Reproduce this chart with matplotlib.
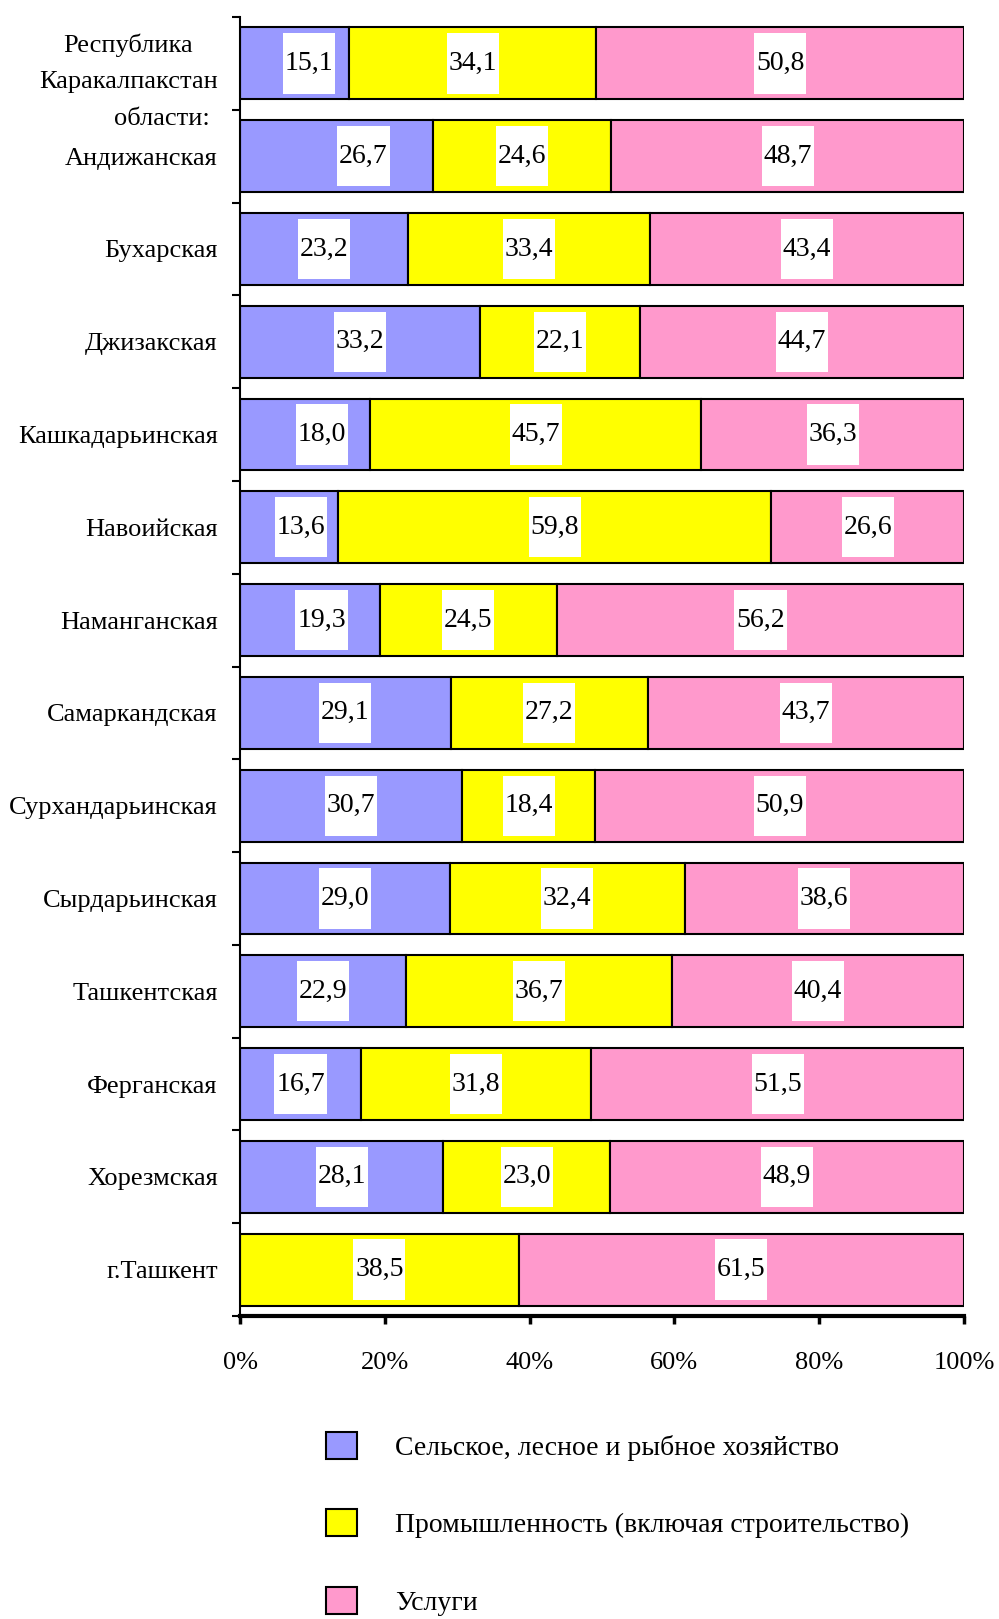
import matplotlib
matplotlib.use('Agg')
import matplotlib.pyplot as plt
from matplotlib.patches import Rectangle, Patch
from matplotlib.transforms import blended_transform_factory
import numpy as np

plt.rcParams['font.family'] = ['Liberation Serif', 'DejaVu Serif']

regions = ["Республика\nКаракалпакстан", "Андижанская", "Бухарская", "Джизакская",
           "Кашкадарьинская", "Навоийская", "Наманганская", "Самаркандская",
           "Сурхандарьинская", "Сырдарьинская", "Ташкентская", "Ферганская",
           "Хорезмская", "г.Ташкент"]
agriculture = [15.1, 26.7, 23.2, 33.2, 18.0, 13.6, 19.3, 29.1, 30.7, 29.0, 22.9, 16.7, 28.1, 0.0]
industry = [34.1, 24.6, 33.4, 22.1, 45.7, 59.8, 24.5, 27.2, 18.4, 32.4, 36.7, 31.8, 23.0, 38.5]
services = [50.8, 48.7, 43.4, 44.7, 36.3, 26.6, 56.2, 43.7, 50.9, 38.6, 40.4, 51.5, 48.9, 61.5]
series_names = ["Сельское, лесное и рыбное хозяйство",
                "Промышленность (включая строительство)",
                "Услуги"]
group_note = "области:"
x_ticks = [0, 20, 40, 60, 80, 100]
x_tick_labels = ["0%", "20%", "40%", "60%", "80%", "100%"]

# style
colors = ["#9999FF", "#FFFF00", "#FF99CC"]
agri_label_nudge = [2.0, 3.7, 0, 0, 2.3, 1.6, 1.6, 0, 0, 0, 0, 0, 0, 0]
FS = 19
VFS = 20
LFS = 20

fig = plt.figure(figsize=(9.99, 16.19), dpi=100)
ax = fig.add_axes([240/999, 1 - 1316/1619, (964-240)/999, (1316-17)/1619])

n = len(regions)
y = np.arange(n)
bar_h = 0.775
series = [agriculture, industry, services]
left = np.zeros(n)
for k, vals in enumerate(series):
    vals = np.array(vals)
    ax.barh(y, vals, left=left, height=bar_h, color=colors[k], edgecolor='black',
            linewidth=1.5, zorder=2)
    for i in range(n):
        if vals[i] <= 0:
            continue
        cx = left[i] + vals[i] / 2
        if k == 0:
            cx += agri_label_nudge[i]
        bw, bh = 7.2, 0.65
        ax.add_patch(Rectangle((cx - bw/2, y[i] - bh/2), bw, bh, facecolor='white',
                               edgecolor='none', zorder=3))
        ax.text(cx, y[i], f"{vals[i]:.1f}".replace('.', ','), ha='center', va='center',
                fontsize=VFS, zorder=4)
    left = left + vals

ax.set_xlim(0, 100)
ax.set_ylim(n - 0.5, -0.5)

ax.set_yticks(y)
ax.set_yticklabels(regions, fontsize=FS)
for t in ax.get_yticklabels():
    if '\n' in t.get_text():
        t.set_multialignment('center')
        t.set_linespacing(1.8)
        t.set_verticalalignment('center')
ax.set_yticks(np.arange(n + 1) - 0.5, minor=True)
ax.tick_params(axis='y', which='major', length=0, pad=16)
ax.tick_params(axis='y', which='minor', length=6, width=1.5, direction='out')

ax.set_xticks(x_ticks)
ax.set_xticklabels(x_tick_labels, fontsize=FS)
ax.tick_params(axis='x', which='major', length=6, width=2.5, direction='out', pad=20)

for s in ['top', 'right']:
    ax.spines[s].set_visible(False)
ax.spines['left'].set_linewidth(1.5)
ax.spines['bottom'].set_linewidth(3)

trans = blended_transform_factory(ax.transAxes, ax.transData)
ax.text(-0.108, 0.6, group_note, transform=trans, ha='center', va='center', fontsize=FS)

handles = [Patch(facecolor=c, edgecolor='black', linewidth=1.5) for c in colors]
fig.legend(handles, series_names, loc='upper left',
           bbox_to_anchor=(326/999, 1 - 1432/1619), frameon=False, fontsize=LFS,
           handlelength=1.12, handleheight=1.12, handletextpad=1.38,
           labelspacing=1.74, borderpad=0, borderaxespad=0)

fig.savefig('out.png', dpi=100)
